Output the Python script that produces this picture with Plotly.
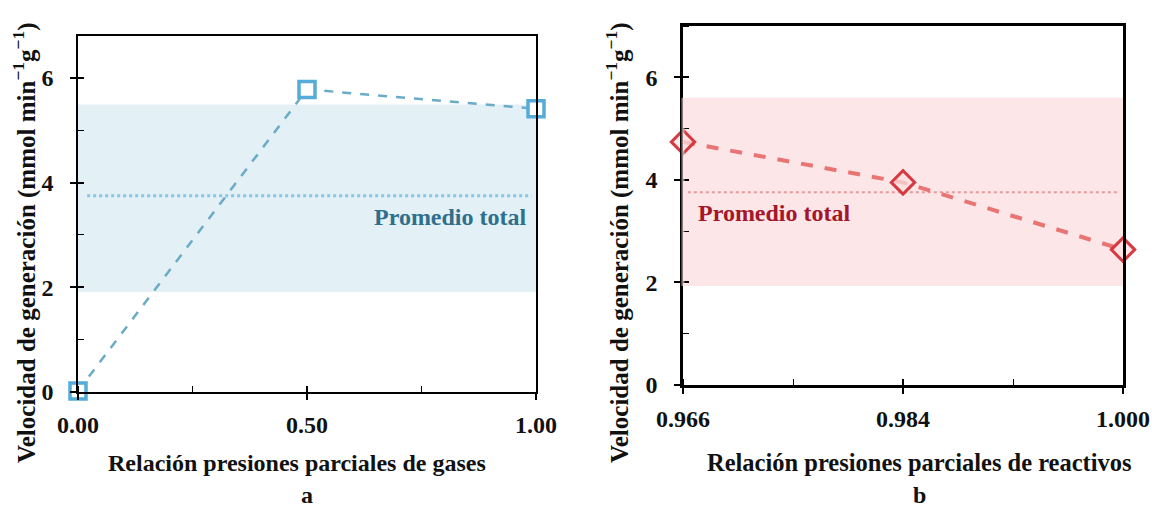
import plotly.graph_objects as go

# ---- data ----
x_a = [0.0, 0.5, 1.0]
y_a = [0.02, 5.78, 5.41]
band_a = [1.91, 5.49]
avg_a = 3.75
xticks_a = [0.0, 0.5, 1.0]
xticklabels_a = ["0.00", "0.50", "1.00"]

cats_b = ["0.966", "0.984", "1.000"]
y_b = [4.74, 3.95, 2.64]
band_b = [1.93, 5.60]
avg_b = 3.76

yticks = [0, 2, 4, 6]

FONT = "'Liberation Serif', 'Times New Roman', serif"
BLUE = "#55acd9"
BLUE_LINE = "#6aabc8"
RED = "#d63a40"
RED_LINE = "#e97474"

x_b = list(range(len(cats_b)))

fig = go.Figure()

fig.add_trace(go.Scatter(
    x=x_a, y=y_a, mode="lines+markers", xaxis="x", yaxis="y",
    line=dict(color=BLUE_LINE, width=2.5, dash="dash"),
    marker=dict(symbol="square", size=16, color="white", line=dict(width=3.5, color=BLUE)),
    cliponaxis=False, showlegend=False))

fig.add_trace(go.Scatter(
    x=x_b, y=y_b, mode="lines+markers", xaxis="x2", yaxis="y2",
    line=dict(color=RED_LINE, width=4, dash="dash"),
    marker=dict(symbol="diamond", size=18, color="rgba(255,225,225,0.7)", line=dict(width=3, color=RED)),
    cliponaxis=False, showlegend=False))

# dummy traces for overlay axes (inside tick halves)
fig.add_trace(go.Scatter(x=[None], y=[None], xaxis="x3", yaxis="y3", showlegend=False, hoverinfo="skip"))
fig.add_trace(go.Scatter(x=[None], y=[None], xaxis="x4", yaxis="y4", showlegend=False, hoverinfo="skip"))

dom_ax = [78/1152, 536/1152]
dom_ay = [1-392/511, 1-36/511]
dom_bx = [683/1152, 1123/1152]
dom_by = [1-385/511, 1-26/511]
yr_a = [0, 6.8]
yr_b = [0, 7]

tickfont = dict(family=FONT, size=24, color="#111", weight="bold")

def xax(domain, rng, tv, tt, anchor, lw):
    return dict(domain=domain, range=rng, anchor=anchor, tickvals=tv, ticktext=tt,
                showline=True, linecolor="black", linewidth=lw, mirror=True,
                ticks="outside", ticklen=6, tickwidth=1.5, tickcolor="black", automargin=False,
                tickfont=tickfont, showgrid=False, zeroline=False, ticklabelstandoff=4,
                minor=dict(ticks="inside", ticklen=6, tickwidth=1, tickcolor="black",
                           dtick=(rng[1]-rng[0])/4, tick0=rng[0], showgrid=False))

def yax(domain, rng, anchor, lw):
    return dict(domain=domain, range=rng, anchor=anchor, tickvals=yticks,
                showline=True, linecolor="black", linewidth=lw, mirror=True,
                ticks="outside", ticklen=6, tickwidth=1.5, tickcolor="black", automargin=False,
                tickfont=tickfont, showgrid=False, zeroline=False, ticklabelstandoff=12,
                minor=dict(ticks="inside", ticklen=6, tickwidth=1, tickcolor="black",
                           dtick=1, tick0=0, showgrid=False))

def ovx(domain, rng, tv, over, anchor):
    return dict(domain=domain, range=rng, overlaying=over, anchor=anchor, tickvals=tv,
                showticklabels=False, ticks="inside", ticklen=6, tickwidth=1.5, tickcolor="black",
                showline=False, showgrid=False, zeroline=False, automargin=False)

def ovy(domain, rng, over, anchor):
    return dict(domain=domain, range=rng, overlaying=over, anchor=anchor, tickvals=yticks,
                showticklabels=False, ticks="inside", ticklen=6, tickwidth=1.5, tickcolor="black",
                showline=False, showgrid=False, zeroline=False, automargin=False)

fig.update_layout(
    width=1152, height=511, margin=dict(l=0, r=0, t=0, b=0, autoexpand=False),
    paper_bgcolor="white", plot_bgcolor="rgba(0,0,0,0)",
    font=dict(family=FONT),
    xaxis=xax(dom_ax, [0, 1], xticks_a, xticklabels_a, "y", 1.5),
    yaxis=yax(dom_ay, yr_a, "x", 1.5),
    xaxis2=xax(dom_bx, [0, len(cats_b)-1], x_b, cats_b, "y2", 2.5),
    yaxis2=yax(dom_by, yr_b, "x2", 2.5),
    xaxis3=ovx(dom_ax, [0, 1], xticks_a, "x", "y3"),
    yaxis3=ovy(dom_ay, yr_a, "y", "x3"),
    xaxis4=ovx(dom_bx, [0, len(cats_b)-1], x_b, "x2", "y4"),
    yaxis4=ovy(dom_by, yr_b, "y2", "x4"),
)

# bands and average lines
fig.add_shape(type="rect", xref="x domain", yref="y", x0=0, x1=1, y0=band_a[0], y1=band_a[1],
              fillcolor="#e3f0f6", line_width=0, layer="below")
fig.add_shape(type="line", xref="x domain", yref="y", x0=0.02, x1=0.99, y0=avg_a, y1=avg_a,
              line=dict(color="#86c6e2", width=3, dash="dot"), layer="below")
fig.add_shape(type="rect", xref="x2 domain", yref="y2", x0=0, x1=1, y0=band_b[0], y1=band_b[1],
              fillcolor="#fde6e7", line_width=0, layer="below")
fig.add_shape(type="line", xref="x2 domain", yref="y2", x0=0.011, x1=0.99, y0=avg_b, y1=avg_b,
              line=dict(color="#e89a9c", width=2, dash="dot"), layer="below")
# band tint over panel b left axis
fig.add_shape(type="line", xref="x2 domain", yref="y2", x0=0, x1=0, y0=band_b[0], y1=band_b[1],
              line=dict(color="rgba(253,225,226,0.55)", width=3), layer="above")

fig.add_annotation(text="<b>Promedio total</b>", xref="x", yref="y", x=0.985, y=avg_a, yshift=-21,
                   xanchor="right", yanchor="middle", showarrow=False,
                   font=dict(family=FONT, size=24, color="#2f6f8c"))
fig.add_annotation(text="<b>Promedio total</b>", xref="x2", yref="y2", x=0.03 * (len(cats_b)-1), y=avg_b, yshift=-21,
                   xanchor="left", yanchor="middle", showarrow=False,
                   font=dict(family=FONT, size=24, color="#a5162a"))

titlefont = dict(family=FONT, size=24, color="#111")
ytitlefont = dict(family=FONT, size=25, color="#111")
ytitle = "<b>Velocidad de generación (mmol min<sup>−1</sup>g<sup>−1</sup>)</b>"
fig.add_annotation(text=ytitle, xref="paper", yref="paper", x=24/1152, y=1-243/511,
                   textangle=-90, showarrow=False, xanchor="center", yanchor="middle", font=ytitlefont)
fig.add_annotation(text=ytitle, xref="paper", yref="paper", x=617/1152, y=1-243/511,
                   textangle=-90, showarrow=False, xanchor="center", yanchor="middle", font=ytitlefont)
fig.add_annotation(text="<b>Relación presiones parciales de gases</b>", xref="paper", yref="paper",
                   x=(105+488)/2/1152, y=1-463/511, showarrow=False, xanchor="center", yanchor="middle",
                   font=titlefont)
fig.add_annotation(text="<b>Relación presiones parciales de reactivos</b>", xref="paper", yref="paper",
                   x=919/1152, y=1-462/511, showarrow=False, xanchor="center", yanchor="middle",
                   font=dict(family=FONT, size=24.5, color="#111"))
fig.add_annotation(text="<b>a</b>", xref="paper", yref="paper", x=(78+536)/2/1152, y=1-495/511,
                   showarrow=False, xanchor="center", yanchor="middle", font=dict(family=FONT, size=24, color="#111"))
fig.add_annotation(text="<b>b</b>", xref="paper", yref="paper", x=919/1152, y=1-495/511,
                   showarrow=False, xanchor="center", yanchor="middle", font=dict(family=FONT, size=24, color="#111"))

fig.write_html("out.html")
